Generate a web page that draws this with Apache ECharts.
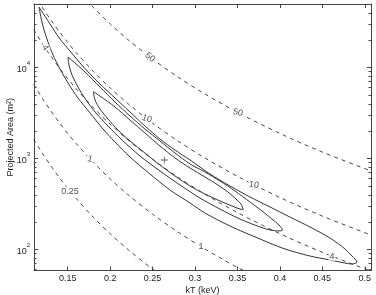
<!DOCTYPE html>
<html><head><meta charset="utf-8">
<script src="https://cdn.jsdelivr.net/npm/echarts@6/dist/echarts.min.js"></script>
<style>html,body{margin:0;padding:0;background:#fff}#c{width:376px;height:295px}</style>
</head><body><div id="c"></div>
<script>
// ---- axis ticks ----
const xTicks = [0.15, 0.2, 0.25, 0.3, 0.35, 0.4, 0.45, 0.5];
const yTickExponents = [2, 3, 4];
const yMinorTicks = [60,70,80,90,200,300,400,500,600,700,800,900,2000,3000,4000,5000,6000,7000,8000,9000,20000,30000,40000];

// ---- dashed iso-lines (kT in keV, projected area in m^2) ----
const dashKT = [0.11,0.12,0.13,0.14,0.15,0.16,0.18,0.20,0.22,0.25,0.28,0.31,0.35,0.40,0.45,0.51];
const line50 = [327850,231481,168061,124948,94815,73242,45725,30000,20490,12288,7809,5198,3199,1875,1171,709.5];
const line10 = [64886,45814,33262,24729,18765,14496,9050,5938,4055,2432,1546,1029,633,371,231.7,140.4];
const line4 = [25955,18326,13305,9892,7506,5798,3620,2375,1622,972.8,618.2,411.5,253.2,148.4,92.7,56.2];
const line1 = [6489,4581,3326,2473,1877,1450,905,593.8,405.5,243.2,154.6,102.9,63.3,37.1];
const line025 = [1619,1143,829.8,616.9,468.2,361.6,225.8,148.1,101.2,60.7,38.6];

// ---- dashed line labels ----
const lblText = ['50','50','10','10','4','4','1','1','0.25'];
const lblKT = [0.247,0.3506,0.2431,0.3694,0.1233,0.4613,0.1763,0.307,0.1528];
const lblA = [12900,3177,2720,510,16450,83.9,983,107,435];
const lblRot = [-40,-15,-20,-10,-60,0,-15,0,0];

// ---- confidence contours (closed) ----
const outerKT = [0.1162,0.1292,0.1409,0.1527,0.1645,0.1763,0.1880,0.2057,0.2234,0.2410,0.2587,0.2764,0.2941,0.3176,0.3412,0.3647,0.3883,0.4118,0.4354,0.4590,0.4766,0.4849,0.4908,
  0.4849,0.4766,0.4590,0.4354,0.4060,0.3765,0.3412,0.3117,0.2941,0.2705,0.2469,0.2234,0.2057,0.1916,0.1763,0.1621,0.1504,0.1409,0.1327,0.1268,0.1221,0.1186,0.1162];
const outerA = [45970,29910,20460,15110,11150,8440,6553,4597,3228,2264,1630,1234,958,672,496,376,292,226,176,133,101,84.4,72.5,
  68.9,70.7,76.3,84.4,100.8,129.8,180.3,250.6,322.8,448.4,672.2,1033,1511,2099,3147,4597,6721,9579,13650,18970,25700,34820,45970];
const midKT = [0.1504,0.1586,0.1704,0.1880,0.2057,0.2234,0.2410,0.2587,0.2764,0.2941,0.3117,0.3294,0.3471,0.3647,0.3789,0.3906,0.3989,0.4030,
  0.3989,0.3883,0.3765,0.3530,0.3294,0.3058,0.2823,0.2587,0.2352,0.2140,0.1975,0.1833,0.1716,0.1621,0.1551,0.1515,0.1504];
const midA = [12980,11150,8879,6075,4156,2916,2099,1550,1144,866,707,563,437,331,264,215,185,163,
  159,163,176,215,277,366,509,725,1060,1589,2264,3147,4372,6075,8230,10600,12980];
const innerKT = [0.1802,0.1880,0.2057,0.2234,0.2410,0.2587,0.2764,0.2941,0.3117,0.3270,0.3388,0.3482,0.3541,0.3568,
  0.3530,0.3435,0.3294,0.3117,0.2941,0.2764,0.2587,0.2410,0.2234,0.2092,0.1975,0.1880,0.1822,0.1802];
const innerA = [5395,4836,3662,2636,1897,1365,1008,782,623,509,426,357,315,274,
  277,299,340,405,496,639,844,1144,1550,2046,2703,3482,4372,5395];

// ---- best fit ----
const bestKT = [0.2638];
const bestA = [958];

const X_MIN = 0.1103, X_MAX = 0.5073, Y_MIN = 58.5, Y_MAX = 49600;
const FONT = '"Liberation Sans", Arial, Helvetica, sans-serif';
const INK = '#333';
const AX = '#444';

function zip(xs, ys) { const out = []; for (let i = 0; i < ys.length; i++) out.push([xs[i], ys[i]]); return out; }

function dashSeries(vals) {
  return { type: 'line', data: zip(dashKT, vals), symbol: 'none', smooth: 0.3, clip: true,
    lineStyle: { color: INK, width: 0.9, type: [4, 4] }, silent: true, z: 2 };
}
function contourSeries(xs, ys) {
  return { type: 'line', data: zip(xs, ys), symbol: 'none', smooth: 0.3, clip: true,
    lineStyle: { color: INK, width: 1 }, silent: true, z: 3 };
}

const chart = echarts.init(document.getElementById('c'), null, { renderer: 'canvas' });
const yLabelFmt = v => {
  const l = Math.log10(v), e = Math.round(l);
  if (Math.abs(l - e) > 1e-6 || yTickExponents.indexOf(e) < 0) return '';
  return '{b|10}{s|' + e + '}';
};

chart.setOption({
  animation: false,
  backgroundColor: '#fff',
  textStyle: { fontFamily: FONT },
  grid: { left: 34, right: 5, top: 4, bottom: 24.5, containLabel: false, outerBoundsMode: 'none' },
  xAxis: [{
    type: 'value', min: X_MIN, max: X_MAX, position: 'bottom',
    name: 'kT (keV)', nameLocation: 'middle', nameGap: 15.5, nameMoveOverlap: false,
    nameTextStyle: { fontSize: 9, color: '#222', fontFamily: FONT, verticalAlign: 'top' },
    axisLine: { show: true, lineStyle: { color: AX, width: 1 } },
    axisTick: { show: true, inside: true, length: 4, customValues: xTicks, lineStyle: { color: AX } },
    axisLabel: { customValues: xTicks, fontSize: 9, color: '#222', margin: 4, fontFamily: FONT },
    splitLine: { show: false }
  }, {
    type: 'value', min: X_MIN, max: X_MAX, position: 'top',
    axisLine: { show: true, lineStyle: { color: AX, width: 1 } },
    axisTick: { show: true, inside: true, length: 4, customValues: xTicks, lineStyle: { color: AX } },
    axisLabel: { show: false }, splitLine: { show: false }
  }],
  yAxis: [{
    type: 'log', logBase: 10, min: Y_MIN, max: Y_MAX, position: 'left',
    name: 'Projected Area (m²)', nameLocation: 'middle', nameGap: 19, nameRotate: 90, nameMoveOverlap: false,
    nameTextStyle: { fontSize: 9, color: '#222', fontFamily: FONT },
    axisLine: { show: true, lineStyle: { color: AX, width: 1 } },
    axisTick: { show: true, inside: true, length: 4, lineStyle: { color: AX } },
    axisLabel: { formatter: yLabelFmt, showMinLabel: false, showMaxLabel: false, margin: 4,
      rich: { b: { fontSize: 9, color: '#222', lineHeight: 14, verticalAlign: 'bottom', fontFamily: FONT },
              s: { fontSize: 6, color: '#222', lineHeight: 7, verticalAlign: 'top', fontFamily: FONT } } },
    splitLine: { show: false }
  }, {
    type: 'log', logBase: 10, min: Y_MIN, max: Y_MAX, position: 'right',
    axisLine: { show: true, lineStyle: { color: AX, width: 1 } },
    axisTick: { show: true, inside: true, length: 4, lineStyle: { color: AX } },
    axisLabel: { show: false }, splitLine: { show: false }
  }],
  series: [
    dashSeries(line50), dashSeries(line10), dashSeries(line4), dashSeries(line1), dashSeries(line025),
    contourSeries(outerKT, outerA), contourSeries(midKT, midA), contourSeries(innerKT, innerA),
    {
      type: 'custom', silent: true, z: 4,
      data: yMinorTicks.map(v => [X_MIN, v]),
      encode: { x: 0, y: 1 },
      renderItem: (params, api) => {
        const v = api.value(1);
        const pl = api.coord([X_MIN, v]);
        const pr = api.coord([X_MAX, v]);
        const y = Math.round(pl[1]) + 0.5;
        return { type: 'group', children: [
          { type: 'line', shape: { x1: pl[0], y1: y, x2: pl[0] + 2.5, y2: y }, style: { stroke: AX, lineWidth: 1 } },
          { type: 'line', shape: { x1: pr[0], y1: y, x2: pr[0] - 2.5, y2: y }, style: { stroke: AX, lineWidth: 1 } }
        ] };
      }
    },
    {
      type: 'scatter', silent: true, z: 5,
      data: zip(bestKT, bestA),
      symbol: 'path://M4,0h1v9h-1zM0,4h9v1h-9z', symbolSize: 7,
      itemStyle: { color: INK }
    },
    {
      type: 'scatter', silent: true, z: 6,
      symbolSize: 1, itemStyle: { color: 'rgba(0,0,0,0)' },
      data: lblText.map((t, i) => ({ value: [lblKT[i], lblA[i]],
        label: { show: true, formatter: t, rotate: lblRot[i] } })),
      label: { show: true, position: 'inside', fontSize: 9, color: '#222', fontFamily: FONT,
        backgroundColor: '#fff', padding: [0, 1] }
    }
  ]
});
</script></body></html>
